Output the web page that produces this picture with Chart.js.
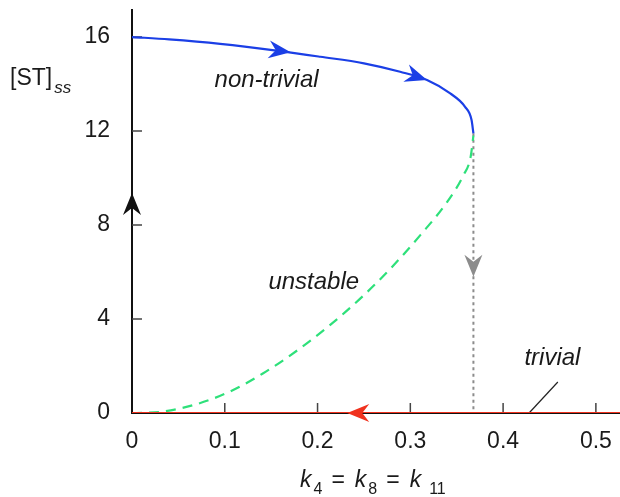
<!DOCTYPE html>
<html>
<head>
<meta charset="utf-8">
<script src="https://cdn.jsdelivr.net/npm/chart.js@4.4.0/dist/chart.umd.min.js"></script>
<style>
  html, body { margin: 0; padding: 0; background: #fff; }
</style>
</head>
<body>
<canvas id="bif" width="620" height="497"></canvas>
<script>
// non-trivial (stable) branch
var kStable = [0, 0.04, 0.095, 0.160, 0.203, 0.250, 0.289, 0.318, 0.343, 0.359, 0.366, 0.368];
var stStable = [16.0, 15.9, 15.71, 15.4, 15.16, 14.88, 14.52, 14.17, 13.6, 13.03, 12.47, 11.9];
// unstable branch (dashed)
var kUnstable = [0, 0.033, 0.070, 0.106, 0.141, 0.178, 0.214, 0.249, 0.278, 0.311, 0.340, 0.357, 0.365, 0.368];
var stUnstable = [0, 0.06, 0.38, 0.92, 1.68, 2.66, 3.76, 4.98, 6.12, 7.58, 9.0, 10.1, 10.9, 11.8];
// trivial branch
var kTrivial = [0, 0.526];
var stTrivial = [0, 0];
// jump down from the fold
var kDrop = [0.368, 0.368];
var stDrop = [11.9, 0];

var xTicks = [0, 0.1, 0.2, 0.3, 0.4, 0.5];
var yTicks = [0, 4, 8, 12, 16];

// arrowheads: tail -> tip, in data units
var arrowFromK = [0.150, 0.298, 0, 0.368, 0.262];
var arrowFromST = [15.46, 14.43, 8.4, 6.8, 0];
var arrowToK = [0.171, 0.318, 0, 0.368, 0.232];
var arrowToST = [15.35, 14.17, 9.36, 5.8, 0];

// curve labels
var labelText = ['non-trivial', 'unstable', 'trivial'];
var labelK = [0.089, 0.147, 0.423];
var labelST = [13.87, 5.28, 2.04];
// leader line for "trivial"
var leaderK = [0.428, 0.459];
var leaderST = [0, 1.32];

function pts(xs, ys) {
  return xs.map(function(x, i) { return { x: x, y: ys[i] }; });
}

var FONT = '"Liberation Sans", Arial, sans-serif';
var arrowColors = ['#1b3fe6', '#1b3fe6', '#111111', '#8c8c8c', '#f0321e'];

function arrowHead(ctx, x0, y0, x1, y1, color) {
  var a = Math.atan2(y1 - y0, x1 - x0);
  ctx.save();
  ctx.translate(x1, y1);
  ctx.rotate(a);
  ctx.beginPath();
  ctx.moveTo(0, 0);
  ctx.lineTo(-22, -9);
  ctx.lineTo(-15, 0);
  ctx.lineTo(-22, 9);
  ctx.closePath();
  ctx.fillStyle = color;
  ctx.fill();
  ctx.restore();
}

// drop the label-driven paddings so the plot box is fixed
function noPad(s) {
  s.paddingTop = 0; s.paddingBottom = 0;
  s.paddingLeft = 0; s.paddingRight = 0;
}

var decor = {
  id: 'decor',
  beforeDraw: function(chart) {
    var c = chart.ctx;
    c.save();
    c.fillStyle = '#fff';
    c.fillRect(0, 0, chart.width, chart.height);
    c.restore();
  },
  beforeDatasetsDraw: function(chart) {
    // inward tick marks
    var c = chart.ctx, xs = chart.scales.x, ys = chart.scales.y;
    var a = chart.chartArea;
    c.save();
    c.strokeStyle = '#444';
    c.lineWidth = 1.5;
    c.beginPath();
    yTicks.forEach(function(v) {
      if (v === 0) return;
      var p = ys.getPixelForValue(v);
      c.moveTo(a.left, p); c.lineTo(a.left + 10, p);
    });
    xTicks.forEach(function(v) {
      if (v === 0) return;
      var p = xs.getPixelForValue(v);
      c.moveTo(p, a.bottom); c.lineTo(p, a.bottom - 10);
    });
    c.stroke();
    // leader line
    c.strokeStyle = '#222';
    c.lineWidth = 1.2;
    c.beginPath();
    c.moveTo(xs.getPixelForValue(leaderK[0]), ys.getPixelForValue(leaderST[0]));
    c.lineTo(xs.getPixelForValue(leaderK[1]), ys.getPixelForValue(leaderST[1]));
    c.stroke();
    c.restore();
  },
  afterDatasetsDraw: function(chart) {
    var c = chart.ctx, xs = chart.scales.x, ys = chart.scales.y;
    for (var i = 0; i < arrowToK.length; i++) {
      arrowHead(c,
        xs.getPixelForValue(arrowFromK[i]), ys.getPixelForValue(arrowFromST[i]),
        xs.getPixelForValue(arrowToK[i]), ys.getPixelForValue(arrowToST[i]),
        arrowColors[i]);
    }
    c.save();
    c.fillStyle = '#1a1a1a';
    c.textBaseline = 'alphabetic';
    c.textAlign = 'left';
    c.font = 'italic 24px ' + FONT;
    for (var j = 0; j < labelText.length; j++) {
      c.fillText(labelText[j], xs.getPixelForValue(labelK[j]), ys.getPixelForValue(labelST[j]));
    }
    // y title: [ST]ss
    c.font = '23px ' + FONT;
    c.fillText('[ST]', 10, 85);
    var w = c.measureText('[ST]').width;
    c.font = 'italic 17px ' + FONT;
    c.fillText('ss', 10 + w + 2, 93);
    // x title: k4 = k8 = k11
    var parts = [
      ['k', 'italic 23px ', 0, 2], ['4', '16px ', 7, 3],
      ['=', '23px ', 0, 10], ['k', 'italic 23px ', 0, 2], ['8', '16px ', 7, 3],
      ['=', '23px ', 0, 10], ['k', 'italic 23px ', 0, 8], ['11', '16px ', 7, 0]
    ];
    var x = 300;
    parts.forEach(function(p) {
      c.font = p[1] + FONT;
      if (p[0] === '=') x += 6;
      c.fillText(p[0], x, 487 + p[2]);
      x += c.measureText(p[0]).width + p[3];
    });
    c.restore();
  }
};

new Chart(document.getElementById('bif').getContext('2d'), {
  type: 'line',
  data: {
    datasets: [
      { data: pts(kTrivial, stTrivial), borderColor: '#f0321e', borderWidth: 2.2, tension: 0 },
      { data: pts(kStable, stStable), borderColor: '#1b3fe6', borderWidth: 2.2, cubicInterpolationMode: 'monotone' },
      { data: pts(kUnstable, stUnstable), borderColor: '#2ee07a', borderWidth: 2.2, borderDash: [10, 7], cubicInterpolationMode: 'monotone' },
      { data: pts(kDrop, stDrop), borderColor: '#8c8c8c', borderWidth: 2, borderDash: [3, 3.5], tension: 0 }
    ]
  },
  options: {
    responsive: false,
    devicePixelRatio: 1,
    animation: false,
    layout: { padding: { top: 10, right: 0, left: 0, bottom: 0 } },
    elements: { point: { radius: 0 }, line: { fill: false } },
    plugins: { legend: { display: false }, tooltip: { enabled: false } },
    scales: {
      x: {
        type: 'linear', min: 0, max: 0.526,
        afterFit: function(s) { s.height = 84; noPad(s); },
        afterBuildTicks: function(s) { s.ticks = xTicks.map(function(v) { return { value: v }; }); },
        grid: { display: false, drawTicks: false },
        border: { display: true, color: '#111', width: 2 },
        ticks: {
          padding: 15, color: '#1a1a1a', maxRotation: 0, autoSkip: false,
          font: { family: FONT, size: 23 },
          callback: function(v) { return String(v); }
        }
      },
      y: {
        type: 'linear', min: 0, max: 17.15,
        afterFit: function(s) { s.width = 132; noPad(s); },
        afterBuildTicks: function(s) { s.ticks = yTicks.map(function(v) { return { value: v }; }); },
        grid: { display: false, drawTicks: false },
        border: { display: true, color: '#111', width: 2 },
        ticks: {
          padding: 22, color: '#1a1a1a',
          font: { family: FONT, size: 23 },
          callback: function(v) { return String(v); }
        }
      }
    }
  },
  plugins: [decor]
});
</script>
</body>
</html>
